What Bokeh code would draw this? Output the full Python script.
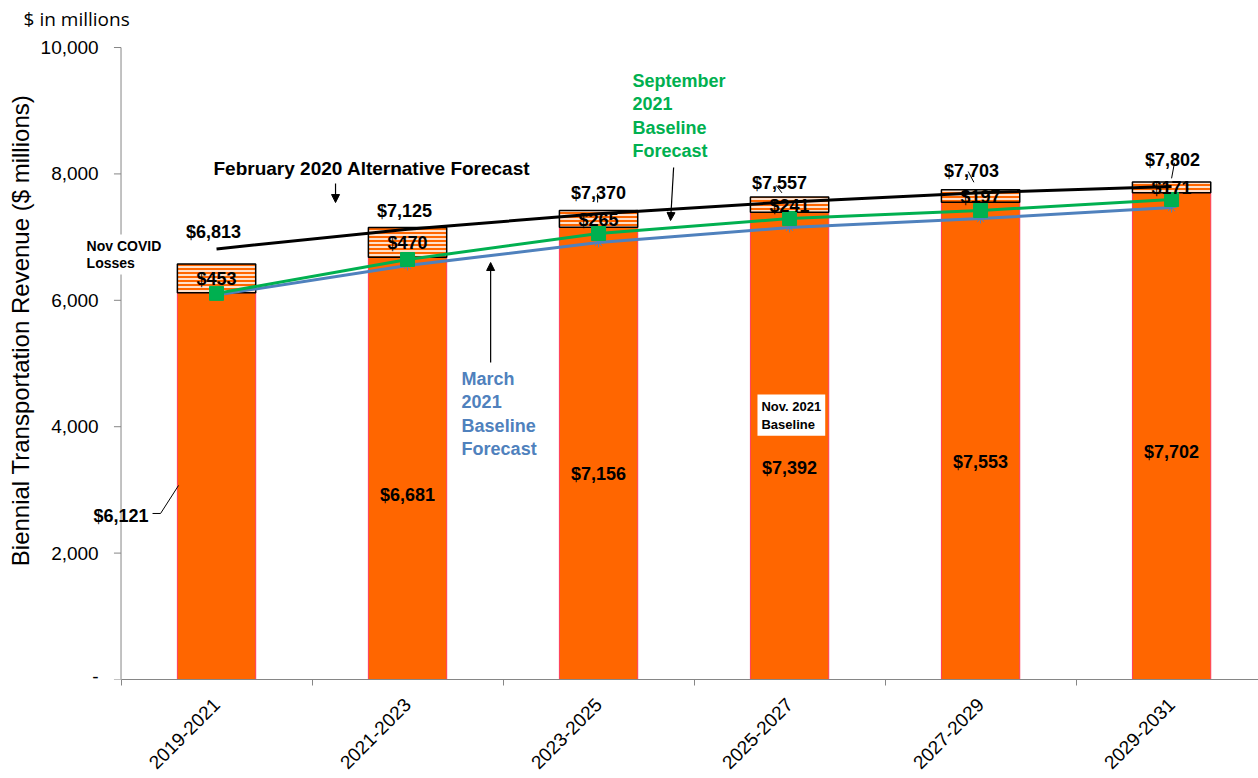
import numpy as np
from math import pi
from bokeh.plotting import figure
from bokeh.models import (Range1d, FixedTicker, Label, Arrow, NormalHead,
                          ColumnDataSource)
from bokeh.core.properties import value
from bokeh.embed import file_html
from bokeh.resources import INLINE

# ---------------- data ----------------
categories = ["2019-2021", "2021-2023", "2023-2025", "2025-2027", "2027-2029", "2029-2031"]
nov2021_baseline = [6121, 6681, 7156, 7392, 7553, 7702]
covid_losses = [453, 470, 265, 241, 197, 171]
feb2020_alternative = [6813, 7125, 7370, 7557, 7703, 7802]
sep2021_baseline = [6110, 6646, 7057, 7294, 7421, 7595]
mar2021_baseline = [6085, 6551, 6915, 7152, 7294, 7468]
y_ticks = [0, 2000, 4000, 6000, 8000, 10000]
y_tick_labels = ["-", "2,000", "4,000", "6,000", "8,000", "10,000"]

def money(v):
    return "${:,}".format(v)

# ---------------- styles / layout ----------------
ORANGE = "#FF6600"
GREEN = "#00B050"
BLUE = "#4F81BD"
AXIS = "#868686"
FONT = "Liberation Sans"
BAR_W = 0.41
AXIS_X = -0.5          # position of the value axis (left edge of first category)

x = np.arange(len(categories))
base = np.array(nov2021_baseline)
loss = np.array(covid_losses)

p = figure(width=1258, height=778, output_backend="svg", toolbar_location=None,
           x_range=Range1d(-1.131, 5.455), y_range=Range1d(0, 10744),
           min_border_left=0, min_border_right=0, min_border_top=0,
           min_border_bottom=99)
p.outline_line_color = None
p.xgrid.visible = False
p.ygrid.visible = False
p.yaxis.visible = False
p.background_fill_color = "white"

# bars
p.vbar(x=x, bottom=0, top=base, width=BAR_W, fill_color=ORANGE,
       line_color="#FF3B5C", line_width=1)
p.vbar(x=x, bottom=base, top=base + loss, width=BAR_W, fill_color=ORANGE,
       hatch_pattern="horizontal_line", hatch_color="white", hatch_scale=4,
       hatch_weight=1.6, line_color="black", line_width=1.5)

# lines
p.line(x, mar2021_baseline, line_color=BLUE, line_width=3)
p.scatter(x, mar2021_baseline, marker="asterisk", size=10, line_color=BLUE, line_width=1)
p.line(x, sep2021_baseline, line_color=GREEN, line_width=3)
p.scatter(x, sep2021_baseline, marker="square", size=14, fill_color=GREEN, line_color=GREEN)
p.line(x, feb2020_alternative, line_color="black", line_width=3)

# category axis (bokeh axis, bounded to start at the value axis)
p.xaxis.bounds = (AXIS_X, 6)
p.xaxis.ticker = FixedTicker(ticks=list(range(len(categories))),
                             minor_ticks=[i - 0.5 for i in range(len(categories) + 1)])
p.xaxis.major_label_overrides = {i: c for i, c in enumerate(categories)}
p.xaxis.major_tick_line_color = None
p.xaxis.major_tick_out = 6
p.xaxis.minor_tick_line_color = AXIS
p.xaxis.minor_tick_out = 6
p.xaxis.minor_tick_in = 0
p.xaxis.major_label_orientation = pi / 4
p.xaxis.major_label_standoff = 16
p.xaxis.major_label_text_font = FONT
p.xaxis.major_label_text_font_size = "19px"
p.xaxis.major_label_text_color = "black"
p.xaxis.axis_line_color = AXIS

# value axis drawn inside the (full-width) frame
p.segment(x0=[AXIS_X], y0=[0], x1=[AXIS_X], y1=[y_ticks[-1]], line_color=AXIS, line_width=1)
p.segment(x0=[AXIS_X - 0.037] * len(y_ticks), y0=y_ticks, x1=[AXIS_X] * len(y_ticks),
          y1=y_ticks, line_color=AXIS, line_width=1)
p.text(x=[AXIS_X - 0.117] * len(y_ticks), y=y_ticks, text=y_tick_labels,
       y_offset=[-3] + [0] * (len(y_ticks) - 1),
       text_font=value(FONT), text_font_size="19px", text_align="right",
       text_baseline="middle", text_color="black")
p.text(x=[-1.026], y=[5522], text=["Biennial Transportation Revenue ($ millions)"],
       angle=pi / 2, text_font=value(FONT), text_font_size="24px",
       text_align="center", text_baseline="middle", text_color="black")
p.text(x=[-1.010], y=[10459], text=["$ in millions"],
       text_font=value("Open Sans"), text_font_size="19px",
       text_align="left", text_baseline="middle", text_color="black")

# data labels
feb_dx = [-3, -3, 0, -10, -9, 1]
feb_dy = [-17, -18, -21, -19, -22, -26]
src_feb = ColumnDataSource(dict(x=x, y=feb2020_alternative,
                                t=[money(v) for v in feb2020_alternative],
                                dx=feb_dx, dy=feb_dy))
p.text(x="x", y="y", text="t", x_offset="dx", y_offset="dy", source=src_feb,
       text_font=value(FONT), text_font_style="bold", text_font_size="18px",
       text_align="center", text_baseline="middle", text_color="black")

src_loss = ColumnDataSource(dict(x=x, y=base + loss / 2.0,
                                 t=[money(v) for v in covid_losses]))
p.text(x="x", y="y", text="t", source=src_loss, y_offset=1,
       text_font=value(FONT), text_font_style="bold", text_font_size="18px",
       text_align="center", text_baseline="middle", text_color="black")

# leader line for the outside $6,121 label
p.line([-0.335, -0.293, -0.199], [2627, 2627, 3070], line_color="black", line_width=1)
# small leaders near top labels
p.segment(x0=[1.995, 2.93, 3.935, 5.015], y0=[7690, 7818, 8038, 8175],
          x1=[1.995, 2.96, 3.965, 5.0], y1=[7548, 7700, 7868, 7930],
          line_color="black", line_width=1)

base_label_y = [2595, 2927, 3259, 3339, 3434, 3592]
base_label_x = [-0.356, 1, 2, 3, 4, 5]
base_align = ["right", "center", "center", "center", "center", "center"]
src_base = ColumnDataSource(dict(x=base_label_x, y=base_label_y,
                                 t=[money(v) for v in nov2021_baseline],
                                 a=base_align))
p.text(x="x", y="y", text="t", text_align="a", source=src_base,
       text_font=value(FONT), text_font_style="bold", text_font_size="18px",
       text_baseline="middle", text_color="black")

# annotations
p.add_layout(Label(x=-0.016, y=8085, text="February 2020 Alternative Forecast",
                   text_align="left", text_baseline="middle",
                   text_font=FONT, text_font_style="bold", text_font_size="19px",
                   text_color="black"))
p.add_layout(Label(x=2.178, y=9636, text="September\n2021\nBaseline\nForecast",
                   text_align="left", text_baseline="top", text_line_height=1.18,
                   text_font=FONT, text_font_style="bold", text_font_size="18px",
                   text_color=GREEN))
p.add_layout(Label(x=1.283, y=4921, text="March\n2021\nBaseline\nForecast",
                   text_align="left", text_baseline="top", text_line_height=1.18,
                   text_font=FONT, text_font_style="bold", text_font_size="18px",
                   text_color=BLUE))
p.add_layout(Label(x=-0.696, y=7040, text="Nov COVID\nLosses",
                   text_align="left", text_baseline="top", text_line_height=1.12,
                   text_font=FONT, text_font_style="bold", text_font_size="14px",
                   text_color="black", background_fill_color="white", padding=3))
p.add_layout(Label(x=2.832, y=4509, text="Nov. 2021\nBaseline",
                   text_align="left", text_baseline="top", text_line_height=1.22,
                   text_font=FONT, text_font_style="bold", text_font_size="13px",
                   text_color="black", background_fill_color="white", padding=4))

def arrow(x0, y0, x1, y1):
    p.add_layout(Arrow(end=NormalHead(size=8, fill_color="black", line_color="black"),
                       x_start=x0, y_start=y0, x_end=x1, y_end=y1,
                       line_color="black", line_width=1.2))

arrow(0.623, 7848, 0.623, 7547)
arrow(2.393, 8101, 2.377, 7263)
arrow(1.435, 5016, 1.435, 6598)

open("out.html", "w").write(file_html(p, INLINE))
